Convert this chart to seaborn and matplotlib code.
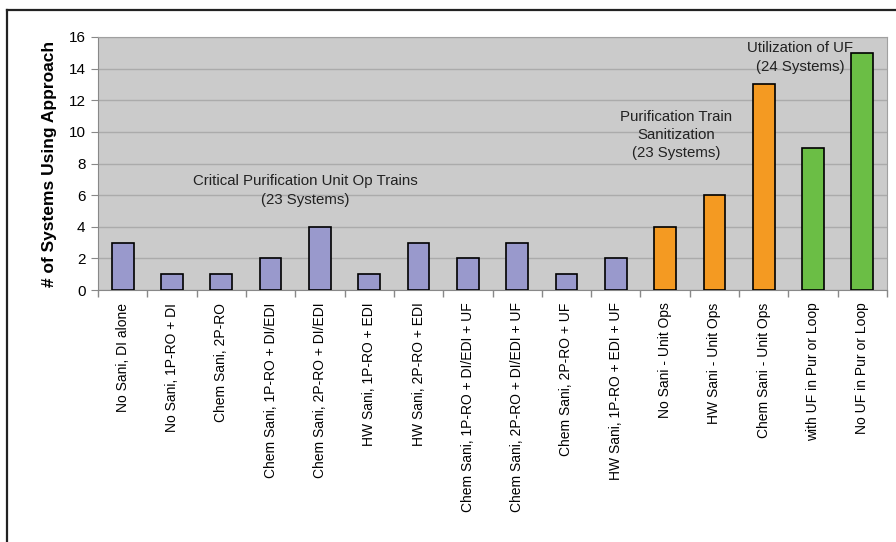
import matplotlib
matplotlib.use("Agg")
import matplotlib.pyplot as plt
from matplotlib.lines import Line2D
from matplotlib.ticker import FixedLocator, MultipleLocator
import seaborn as sns
import pandas as pd

categories = [
    "No Sani, DI alone",
    "No Sani, 1P-RO + DI",
    "Chem Sani, 2P-RO",
    "Chem Sani, 1P-RO + DI/EDI",
    "Chem Sani, 2P-RO + DI/EDI",
    "HW Sani, 1P-RO + EDI",
    "HW Sani, 2P-RO + EDI",
    "Chem Sani, 1P-RO + DI/EDI + UF",
    "Chem Sani, 2P-RO + DI/EDI + UF",
    "Chem Sani, 2P-RO + UF",
    "HW Sani, 1P-RO + EDI + UF",
    "No Sani - Unit Ops",
    "HW Sani - Unit Ops",
    "Chem Sani - Unit Ops",
    "with UF in Pur or Loop",
    "No UF in Pur or Loop",
]
values = [3, 1, 1, 2, 4, 1, 3, 2, 3, 1, 2, 4, 6, 13, 9, 15]
groups = (["trains"] * 11) + (["sanitization"] * 3) + (["uf"] * 2)
group_colors = {"trains": "#9999CC", "sanitization": "#F49A22", "uf": "#6BBE45"}

group_notes = [
    ("Critical Purification Unit Op Trains\n(23 Systems)", 3.70, 6.3),
    ("Purification Train\nSanitization\n(23 Systems)", 11.22, 9.8),
    ("Utilization of UF\n(24 Systems)", 13.74, 14.7),
]

plt.rcParams["font.family"] = ["Liberation Sans", "DejaVu Sans"]

df = pd.DataFrame({"category": categories, "count": values, "group": groups})

fig = plt.figure(figsize=(8.96, 5.42), dpi=100)
ax = fig.add_axes([98 / 896, 1 - 290 / 542, (887 - 98) / 896, (290 - 37) / 542])
ax.set_facecolor("#CBCBCB")

sns.barplot(
    data=df, x="category", y="count", hue="group", palette=group_colors,
    dodge=False, width=0.44, saturation=1, edgecolor="black", linewidth=1.2,
    legend=False, ax=ax, zorder=3,
)

n = len(categories)
ax.set_xlim(-0.5, n - 0.5)
ax.set_ylim(0, 16)
ax.yaxis.set_major_locator(MultipleLocator(2))
ax.grid(axis="y", color="#ABABAB", linewidth=1, zorder=0)
ax.grid(axis="x", visible=False)
ax.set_axisbelow(True)

ax.set_xticks(range(n))
ax.set_xticklabels(categories, rotation=90, fontsize=10)
ax.tick_params(axis="x", which="major", length=0, pad=9)
ax.xaxis.set_minor_locator(FixedLocator([i - 0.5 for i in range(n + 1)]))
ax.tick_params(axis="x", which="minor", length=5, color="#888888", width=1)
ax.tick_params(axis="y", labelsize=11, length=5, color="#888888", pad=4)

for side in ["top", "right"]:
    ax.spines[side].set_color("#A0A0A0")
for side in ["left", "bottom"]:
    ax.spines[side].set_color("#888888")

ax.set_xlabel("")
ax.set_ylabel("# of Systems Using Approach", fontsize=12.5, fontweight="bold", labelpad=8)

for text, x, y in group_notes:
    ax.text(x, y, text, ha="center", va="center", fontsize=10.8, color="#222222",
            linespacing=1.4, zorder=4)

# outer frame of the figure
fig.add_artist(Line2D([7 / 896, 7 / 896], [0, 1 - 10 / 542], transform=fig.transFigure,
                      color="#222222", linewidth=1.6))
fig.add_artist(Line2D([7 / 896, 1], [1 - 10 / 542, 1 - 10 / 542], transform=fig.transFigure,
                      color="#222222", linewidth=1.6))

fig.savefig("out.png", dpi=100)
